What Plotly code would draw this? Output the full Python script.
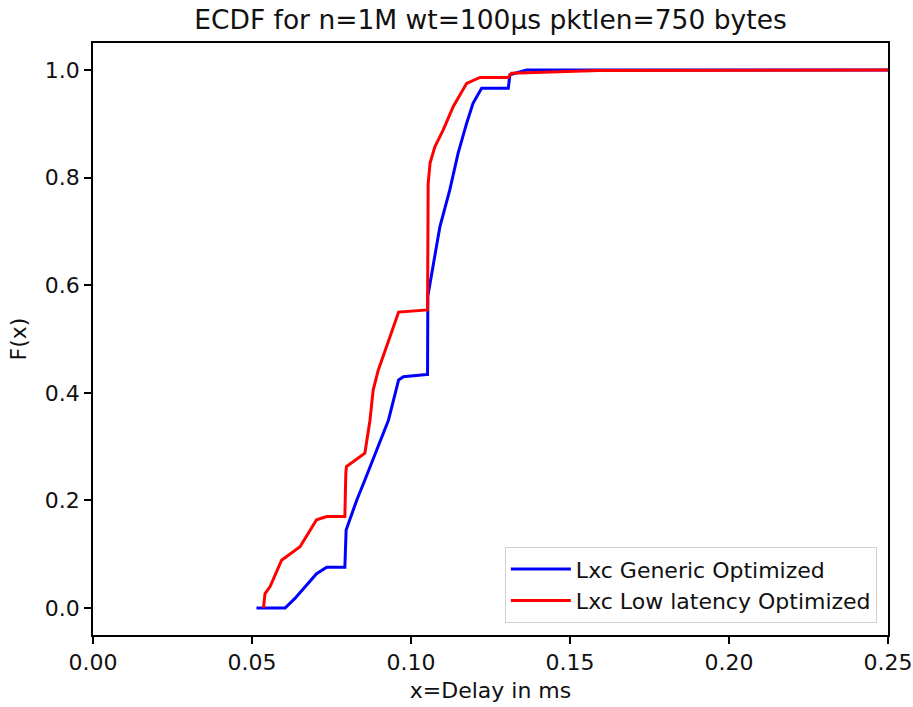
import plotly.graph_objects as go

# Data
generic_x = [0.0514, 0.0604, 0.0635, 0.0703, 0.0735, 0.0792, 0.0796, 0.0829, 0.0855, 0.0929,
             0.0961, 0.0976, 0.1049, 0.1052, 0.1053, 0.1069, 0.1091, 0.1122, 0.1148, 0.1175,
             0.1195, 0.1222, 0.1306, 0.1311, 0.1364, 0.15, 0.25]
generic_y = [0.0, 0.0, 0.018, 0.064, 0.076, 0.076, 0.145, 0.2, 0.238, 0.349,
             0.424, 0.43, 0.434, 0.434, 0.58, 0.634, 0.709, 0.777, 0.845, 0.901,
             0.938, 0.966, 0.966, 0.991, 1.0, 1.0, 1.0]

lowlat_x = [0.0536, 0.0541, 0.0557, 0.0593, 0.0651, 0.0703, 0.0735, 0.0792, 0.0795, 0.0797,
            0.0855, 0.0871, 0.0881, 0.0897, 0.0961, 0.1049, 0.1052, 0.1054, 0.1060, 0.1075,
            0.1101, 0.1133, 0.1175, 0.1217, 0.1306, 0.1316, 0.159, 0.25]
lowlat_y = [0.0, 0.027, 0.04, 0.089, 0.114, 0.164, 0.17, 0.17, 0.25, 0.263,
            0.288, 0.349, 0.405, 0.442, 0.550, 0.554, 0.554, 0.789, 0.827, 0.857,
            0.888, 0.932, 0.975, 0.986, 0.986, 0.994, 0.999, 1.0]

series_names = ["Lxc Generic Optimized", "Lxc Low latency Optimized"]
x_ticks = [0.0, 0.05, 0.10, 0.15, 0.20, 0.25]
x_tick_labels = ["0.00", "0.05", "0.10", "0.15", "0.20", "0.25"]
y_ticks = [0.0, 0.2, 0.4, 0.6, 0.8, 1.0]
y_tick_labels = ["0.0", "0.2", "0.4", "0.6", "0.8", "1.0"]

FONT = "DejaVu Sans"
TXT = "#111111"

fig = go.Figure()
fig.add_trace(go.Scatter(x=generic_x, y=generic_y, mode="lines", name=series_names[0],
                         line=dict(color="#0000ff", width=3)))
fig.add_trace(go.Scatter(x=lowlat_x, y=lowlat_y, mode="lines", name=series_names[1],
                         line=dict(color="#ff0000", width=3)))

fig.update_layout(
    width=913, height=707,
    margin=dict(l=93, r=25, t=43, b=72),
    paper_bgcolor="white", plot_bgcolor="white",
    font=dict(family=FONT, size=22, color=TXT),
    title=dict(text="ECDF for n=1M wt=100µs pktlen=750 bytes",
               x=0.5, xref="paper", xanchor="center",
               y=1 - 20 / 707, yref="container", yanchor="middle",
               font=dict(family=FONT, size=26.5, color=TXT)),
    showlegend=True,
    legend=dict(x=0.986, y=0.02, xanchor="right", yanchor="bottom",
                bgcolor="rgba(255,255,255,0.8)", bordercolor="#d0d0d0", borderwidth=1,
                itemwidth=60,
                font=dict(family=FONT, size=22, color=TXT)),
)

fig.update_xaxes(range=[0, 0.25], tickvals=x_ticks, ticktext=x_tick_labels,
                 showgrid=False, zeroline=False, showline=True, linecolor="#000000",
                 linewidth=1.6, mirror=True, ticks="outside", ticklen=7, tickwidth=1.6,
                 tickcolor="#000000", automargin=False,
                 title=dict(text="x=Delay in ms", standoff=8,
                            font=dict(family=FONT, size=22, color=TXT)))
fig.update_yaxes(range=[-0.05, 1.05], tickvals=y_ticks, ticktext=y_tick_labels,
                 showgrid=False, zeroline=False, showline=True, linecolor="#000000",
                 linewidth=1.6, mirror=True, ticks="outside", ticklen=7, tickwidth=1.6,
                 tickcolor="#000000", automargin=False,
                 title=dict(text="F(x)", standoff=12,
                            font=dict(family=FONT, size=22, color=TXT)))

# remove the default 8px page margin so the figure fills the window exactly
fig.write_html("out.html",
               config={"displayModeBar": False},
               post_script="document.body.style.margin='0';document.body.style.overflow='hidden';")
